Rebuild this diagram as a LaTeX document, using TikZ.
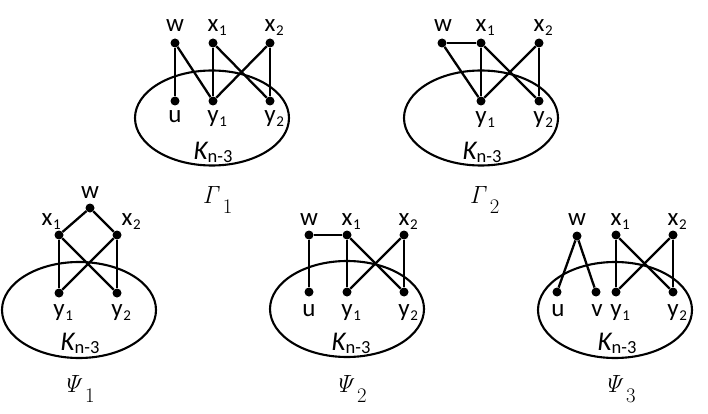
\documentclass[tikz,border=0pt]{standalone}
\usepackage[no-math]{fontspec}
\setmainfont{Carlito}
\newcommand\sbl[2]{#1\rlap{\hspace{0.6pt}\raisebox{-4pt}{\fontsize{15}{15}\selectfont #2}}}
\newcommand\klab{{\fontsize{27}{27}\selectfont\itshape K}{\fontsize{18.5}{18.5}\selectfont\raisebox{-3.5pt}{n-3}}}
\newcommand\glabb[2]{{\fontsize{29}{29}\selectfont$\mathit{#1}$}\rlap{\hspace{1.5pt}\raisebox{-10pt}{\fontsize{20}{20}\selectfont$#2$}}}
\tikzset{
  dot/.style={circle, fill=black, inner sep=0pt, minimum size=9pt},
  lbl/.style={anchor=base, inner sep=0pt, font=\fontsize{25}{25}\selectfont},
  edge/.style={line width=2.3pt},
  blob/.style={line width=2.1pt},
  captext/.style={anchor=base, inner sep=0pt}
}
\begin{document}
\begin{tikzpicture}[x=1pt,y=-1pt]
\useasboundingbox[fill=white] (0,0) rectangle (708,414);

% ---------- Gamma 1 ----------
\draw[blob] (212,118) ellipse [x radius=77pt, y radius=47.5pt];
\node[dot] (g1w) at (175,43) {};
\node[dot] (g1x1) at (213,43) {};
\node[dot] (g1x2) at (270,43) {};
\node[dot] (g1u) at (175,101) {};
\node[dot] (g1y1) at (213,101) {};
\node[dot] (g1y2) at (270,101) {};
\draw[edge] (g1w) -- (g1u);
\draw[edge] (g1w) -- (g1y1);
\draw[edge] (g1x1) -- (g1y1);
\draw[edge] (g1x1) -- (g1y2);
\draw[edge] (g1x2) -- (g1y1);
\draw[edge] (g1x2) -- (g1y2);
\node[lbl] (g1lw) at (175,32) {w};
\node[lbl] (g1lx1) at (213,32) {\sbl{x}{1}};
\node[lbl] (g1lx2) at (270,32) {\sbl{x}{2}};
\node[lbl] (g1lu) at (175,123) {u};
\node[lbl] (g1ly1) at (213,123) {\sbl{y}{1}};
\node[lbl] (g1ly2) at (270,123) {\sbl{y}{2}};
\node[lbl] (g1k) at (213,159) {\klab};
\node[captext] (g1cap) at (212,203) {\glabb{\Gamma}{1}};

% ---------- Gamma 2 ----------
\draw[blob] (481,118) ellipse [x radius=77pt, y radius=47.5pt];
\node[dot] (g2w) at (442,43) {};
\node[dot] (g2x1) at (481,43) {};
\node[dot] (g2x2) at (539,43) {};
\node[dot] (g2y1) at (481,101) {};
\node[dot] (g2y2) at (539,101) {};
\draw[edge] (g2w) -- (g2x1);
\draw[edge] (g2w) -- (g2y1);
\draw[edge] (g2x1) -- (g2y1);
\draw[edge] (g2x1) -- (g2y2);
\draw[edge] (g2x2) -- (g2y1);
\draw[edge] (g2x2) -- (g2y2);
\node[lbl] (g2lw) at (443,32) {w};
\node[lbl] (g2lx1) at (481,32) {\sbl{x}{1}};
\node[lbl] (g2lx2) at (539,32) {\sbl{x}{2}};
\node[lbl] (g2ly1) at (481,124) {\sbl{y}{1}};
\node[lbl] (g2ly2) at (539,124) {\sbl{y}{2}};
\node[lbl] (g2k) at (482,159) {\klab};
\node[captext] (g2cap) at (479,203) {\glabb{\Gamma}{2}};

% ---------- Psi 1 ----------
\draw[blob] (79,310) ellipse [x radius=77pt, y radius=48pt];
\node[dot] (p1w) at (90,208) {};
\node[dot] (p1x1) at (59,235) {};
\node[dot] (p1x2) at (117,235) {};
\node[dot] (p1y1) at (59,293) {};
\node[dot] (p1y2) at (117,293) {};
\draw[edge] (p1w) -- (p1x1);
\draw[edge] (p1w) -- (p1x2);
\draw[edge] (p1x1) -- (p1y1);
\draw[edge] (p1x1) -- (p1y2);
\draw[edge] (p1x2) -- (p1y1);
\draw[edge] (p1x2) -- (p1y2);
\node[lbl] (p1lw) at (90,198) {w};
\node[lbl] (p1lx1) at (47,225) {\sbl{x}{1}};
\node[lbl] (p1lx2) at (127,225) {\sbl{x}{2}};
\node[lbl] (p1ly1) at (59,316) {\sbl{y}{1}};
\node[lbl] (p1ly2) at (117,316) {\sbl{y}{2}};
\node[lbl] (p1k) at (80,350) {\klab};
\node[captext] (p1cap) at (73,392) {\glabb{\Psi}{1}};

% ---------- Psi 2 ----------
\draw[blob] (347,309) ellipse [x radius=77pt, y radius=48pt];
\node[dot] (p2w) at (309,235) {};
\node[dot] (p2x1) at (347,235) {};
\node[dot] (p2x2) at (404,235) {};
\node[dot] (p2u) at (309,292) {};
\node[dot] (p2y1) at (347,292) {};
\node[dot] (p2y2) at (404,292) {};
\draw[edge] (p2w) -- (p2x1);
\draw[edge] (p2w) -- (p2u);
\draw[edge] (p2x1) -- (p2y1);
\draw[edge] (p2x1) -- (p2y2);
\draw[edge] (p2x2) -- (p2y1);
\draw[edge] (p2x2) -- (p2y2);
\node[lbl] (p2lw) at (309,225) {w};
\node[lbl] (p2lx1) at (347,225) {\sbl{x}{1}};
\node[lbl] (p2lx2) at (404,225) {\sbl{x}{2}};
\node[lbl] (p2lu) at (309,316) {u};
\node[lbl] (p2ly1) at (347,316) {\sbl{y}{1}};
\node[lbl] (p2ly2) at (404,316) {\sbl{y}{2}};
\node[lbl] (p2k) at (351,350) {\klab};
\node[captext] (p2cap) at (345,392) {\glabb{\Psi}{2}};

% ---------- Psi 3 ----------
\draw[blob] (615,310) ellipse [x radius=77pt, y radius=48pt];
\node[dot] (p3w) at (577,236) {};
\node[dot] (p3x1) at (616,235) {};
\node[dot] (p3x2) at (673,235) {};
\node[dot] (p3u) at (557,292) {};
\node[dot] (p3v) at (596,292) {};
\node[dot] (p3y1) at (616,292) {};
\node[dot] (p3y2) at (673,292) {};
\draw[edge] (p3w) -- (p3u);
\draw[edge] (p3w) -- (p3v);
\draw[edge] (p3x1) -- (p3y1);
\draw[edge] (p3x1) -- (p3y2);
\draw[edge] (p3x2) -- (p3y1);
\draw[edge] (p3x2) -- (p3y2);
\node[lbl] (p3lw) at (577,225) {w};
\node[lbl] (p3lx1) at (616,225) {\sbl{x}{1}};
\node[lbl] (p3lx2) at (673,225) {\sbl{x}{2}};
\node[lbl] (p3lu) at (558,316) {u};
\node[lbl] (p3lv) at (597,316) {v};
\node[lbl] (p3ly1) at (616,316) {\sbl{y}{1}};
\node[lbl] (p3ly2) at (673,316) {\sbl{y}{2}};
\node[lbl] (p3k) at (617,350) {\klab};
\node[captext] (p3cap) at (614,392) {\glabb{\Psi}{3}};
\end{tikzpicture}
\end{document}
